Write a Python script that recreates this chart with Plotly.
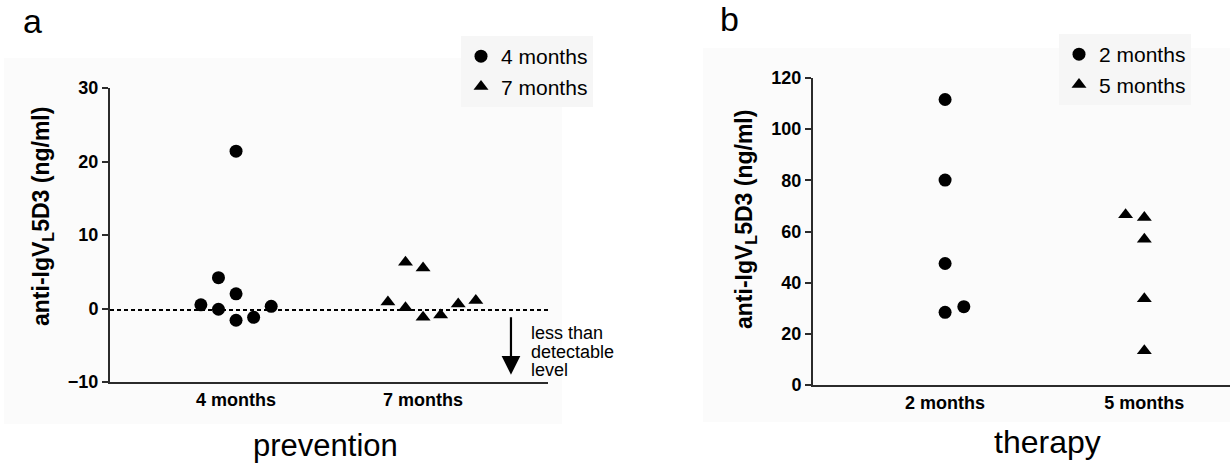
import plotly.graph_objects as go

# ---------------- data ----------------
# panel a: prevention
prev_categories = ["4 months", "7 months"]
prev_4m_values = [0.5, 4.2, -0.1, 21.4, 2.0, -1.6, -1.2, 0.3]
prev_4m_slot = [-2, -1, -1, 0, 0, 0, 1, 2]          # horizontal scatter slot within column
prev_7m_values = [0.9, 6.3, 0.1, 5.5, -1.2, -0.9, 0.6, 1.1]
prev_7m_slot = [-2, -1, -1, 0, 0, 1, 2, 3]
prev_yticks = [-10, 0, 10, 20, 30]
detect_limit = -0.2

# panel b: therapy
ther_categories = ["2 months", "5 months"]
ther_2m_values = [111.6, 80.1, 47.5, 28.4, 30.6]
ther_2m_slot = [0, 0, 0, 0, 1]
ther_5m_values = [66.5, 65.5, 57.0, 33.7, 13.4]
ther_5m_slot = [-1, 0, 0, 0, 0]
ther_yticks = [0, 20, 40, 60, 80, 100, 120]

SLOT = 0.094
FONT = "Liberation Sans, Arial, sans-serif"
AX = "#2b2b2b"

def xs(cat_index, slots):
    return [cat_index + 1 + s * SLOT for s in slots]

fig = go.Figure()

fig.add_trace(go.Scatter(
    x=xs(0, prev_4m_slot), y=prev_4m_values, mode="markers", name="4 months",
    marker=dict(symbol="circle", size=13, color="black"),
    xaxis="x", yaxis="y", legend="legend", legendgroup="a1"))
fig.add_trace(go.Scatter(
    x=xs(1, prev_7m_slot), y=prev_7m_values, mode="markers", name="7 months",
    marker=dict(symbol="triangle-up", size=13, color="black"),
    xaxis="x", yaxis="y", legend="legend", legendgroup="a2"))
fig.add_trace(go.Scatter(
    x=xs(0, ther_2m_slot), y=ther_2m_values, mode="markers", name="2 months",
    marker=dict(symbol="circle", size=13, color="black"),
    xaxis="x2", yaxis="y2", legend="legend2", legendgroup="b1"))
fig.add_trace(go.Scatter(
    x=xs(1, ther_5m_slot), y=ther_5m_values, mode="markers", name="5 months",
    marker=dict(symbol="triangle-up", size=13, color="black"),
    xaxis="x2", yaxis="y2", legend="legend2", legendgroup="b2"))

W, H = 1230, 466
def px(x): return x / W
def py(y): return 1 - y / H

axis_common = dict(showgrid=False, zeroline=False, showline=True, linecolor=AX,
                   linewidth=2, color="black", automargin=False)
tickf = dict(size=18, family=FONT, weight="bold")

fig.update_layout(
    width=W, height=H,
    margin=dict(l=0, r=0, t=0, b=0, pad=0, autoexpand=False),
    paper_bgcolor="white", plot_bgcolor="rgba(0,0,0,0)",
    font=dict(family=FONT, color="black"),
    xaxis=dict(domain=[px(110), px(548)], range=[0.326, 2.668],
               tickvals=[1, 2], ticktext=prev_categories, ticks="",
               tickfont=tickf, anchor="y", **axis_common),
    yaxis=dict(domain=[py(382), py(88)], range=[-10, 30], tickvals=prev_yticks,
               ticks="outside", ticklen=6, tickwidth=2, tickcolor=AX,
               tickfont=tickf, anchor="x", **axis_common),
    xaxis2=dict(domain=[px(813), 1.0], range=[0.337, 2.43],
                tickvals=[1, 2], ticktext=ther_categories, ticks="",
                tickfont=tickf, anchor="y2", **axis_common),
    yaxis2=dict(domain=[py(385), py(78)], range=[0, 120], tickvals=ther_yticks,
                ticks="outside", ticklen=6, tickwidth=2, tickcolor=AX,
                tickfont=tickf, anchor="x2", **axis_common),
    legend=dict(x=px(461), y=py(36), xanchor="left", yanchor="top",
                bgcolor="#f6f6f6", font=dict(size=21), traceorder="grouped",
                tracegroupgap=0, itemwidth=30),
    legend2=dict(x=px(1059), y=py(34), xanchor="left", yanchor="top",
                 bgcolor="#f6f6f6", font=dict(size=21), traceorder="grouped",
                 tracegroupgap=0, itemwidth=30),
    showlegend=True,
)

shapes = [
    dict(type="rect", xref="paper", yref="paper", x0=px(4), x1=px(562), y0=py(424), y1=py(58),
         fillcolor="#fbfbfb", line=dict(width=0), layer="below"),
    dict(type="rect", xref="paper", yref="paper", x0=px(703), x1=1.0, y0=py(422), y1=py(48),
         fillcolor="#fbfbfb", line=dict(width=0), layer="below"),
    dict(type="line", xref="x domain", yref="y", x0=0, x1=1, y0=detect_limit, y1=detect_limit,
         line=dict(color="black", width=2, dash="4px,3px")),
]
fig.update_layout(shapes=shapes)

ytitle = "anti-IgV<sub>L</sub>5D3 (ng/ml)"
annotations = [
    dict(text="a", x=px(21), y=py(21), xref="paper", yref="paper", xanchor="left",
         yanchor="middle", showarrow=False, font=dict(size=34)),
    dict(text="b", x=px(718), y=py(19), xref="paper", yref="paper", xanchor="left",
         yanchor="middle", showarrow=False, font=dict(size=34)),
    dict(text="prevention", x=px(325), y=py(445), xref="paper", yref="paper",
         xanchor="center", yanchor="middle", showarrow=False, font=dict(size=31)),
    dict(text="therapy", x=px(1047), y=py(442), xref="paper", yref="paper",
         xanchor="center", yanchor="middle", showarrow=False, font=dict(size=32)),
    dict(text="<b>" + ytitle + "</b>", x=px(42), y=py(217), xref="paper", yref="paper",
         textangle=-90, xanchor="center", yanchor="middle", showarrow=False,
         font=dict(size=23)),
    dict(text="<b>" + ytitle + "</b>", x=px(745), y=py(220), xref="paper", yref="paper",
         textangle=-90, xanchor="center", yanchor="middle", showarrow=False,
         font=dict(size=23)),
    # arrow for detection limit
    dict(x=2.47, y=-9.0, ax=2.47, ay=-1.0, xref="x", yref="y", axref="x", ayref="y",
         text="", showarrow=True, arrowhead=2, arrowsize=1.7, arrowwidth=2.2,
         arrowcolor="black"),
]
for txt, yv in [("less than", -3.3), ("detectable", -5.9), ("level", -8.4)]:
    annotations.append(dict(text=txt, x=2.565, y=yv, xref="x", yref="y",
                            xanchor="left", yanchor="middle", showarrow=False,
                            font=dict(size=18)))
fig.update_layout(annotations=annotations)

# remove the browser's default 8px body margin so the figure fills the window exactly
fig.write_html("out.html", config={"displayModeBar": False},
               post_script="document.body.style.margin='0';")
